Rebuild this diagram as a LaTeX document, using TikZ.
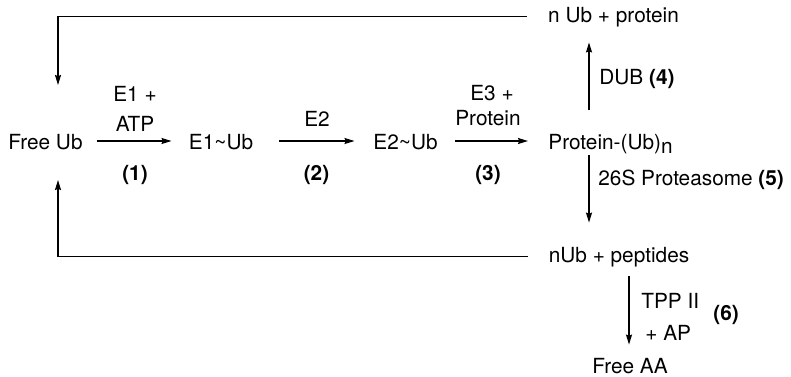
\documentclass[tikz,border=0pt]{standalone}
\usepackage{fontspec}
\setmainfont{TeX Gyre Heros}
\usetikzlibrary{arrows.meta, positioning}

\begin{document}
\begin{tikzpicture}[x=0.5pt, y=-0.5pt,
   every node/.style={inner sep=0pt, font=\fontsize{10.4}{12.5}\selectfont},
   species/.style={anchor=base, text height=8pt, text depth=0pt},
   enz/.style={anchor=base},
   enzl/.style={anchor=base west},
   arr/.style={-{Stealth[length=5pt, width=3pt, inset=0.6pt]}, line width=0.7pt}]
            \useasboundingbox (0,0) rectangle (791,376);
            % Species
            \node[species] (free)    at (45.5,149)  {Free Ub};
            \node[species] (e1ub)    at (221,149)   {E1\textasciitilde Ub};
            \node[species] (e2ub)    at (405.5,149) {E2\textasciitilde Ub};
            \node[species] (protub)  at (610.5,149) {Protein-(Ub)\raisebox{-0.45ex}{n}};
            \node[species] (nubprot) at (613.5,22)  {n Ub + protein};
            \node[species] (nubpep)  at (619,262)   {nUb + peptides};
            \node[species] (freeaa)  at (630,373)   {Free AA};
            % Free ends and columns of the vertical arrows
            \coordinate (topin) at (58,85);
            \coordinate (botin) at (58,180);
            \coordinate (dubx) at (589,0);
            \coordinate (tppx) at (629,0);
            % Ubiquitination steps (1)-(3)
            \draw[arr, shorten <=7pt, shorten >=8.5pt] (free) -- (e1ub);
            \draw[arr, shorten <=13pt, shorten >=9.25pt] (e1ub) -- (e2ub);
            \draw[arr, shorten <=8.75pt, shorten >=10pt] (e2ub) -- (protub);
            \node[enz] (e1lab)   at (135,101) {E1 +};
            \node[enz] (atplab)  at (135,131) {ATP};
            \node[enz] (st1)     at (135,180) {\textbf{(1)}};
            \node[enz] (e2lab)   at (317,126) {E2};
            \node[enz] (st2)     at (316.5,180) {\textbf{(2)}};
            \node[enz] (e3lab)   at (492,100) {E3 +};
            \node[enz] (protlab) at (488,125) {Protein};
            \node[enz] (st3)     at (488,180) {\textbf{(3)}};
            % DUB (4) up, proteasome (5) down
            \draw[arr, shorten <=11.5pt, shorten >=10pt] (protub.north -| dubx) -- (nubprot.south -| dubx);
            \draw[arr, shorten <=3pt, shorten >=11.5pt] (protub.south -| dubx) -- (nubpep.north -| dubx);
            \node[enzl] (dublab) at (599,84)  {DUB \textbf{(4)}};
            \node[enzl] (pslab)  at (598,185) {26S Proteasome \textbf{(5)}};
            % Peptides to amino acids (6)
            \draw[arr, shorten <=7pt, shorten >=6pt] (nubpep.south -| tppx) -- (freeaa.north -| tppx);
            \node[enzl] (tpplab) at (641,308) {TPP II};
            \node[enzl] (aplab)  at (645,340) {+ AP};
            \node[enzl] (st6)    at (713,320) {\textbf{(6)}};
            % Recycling of Ub
            \draw[arr, shorten <=10.5pt] (nubprot.mid west) -| (topin);
            \draw[arr, shorten <=10.4pt] (nubpep.mid west) -| (botin);
         \end{tikzpicture}
\end{document}
